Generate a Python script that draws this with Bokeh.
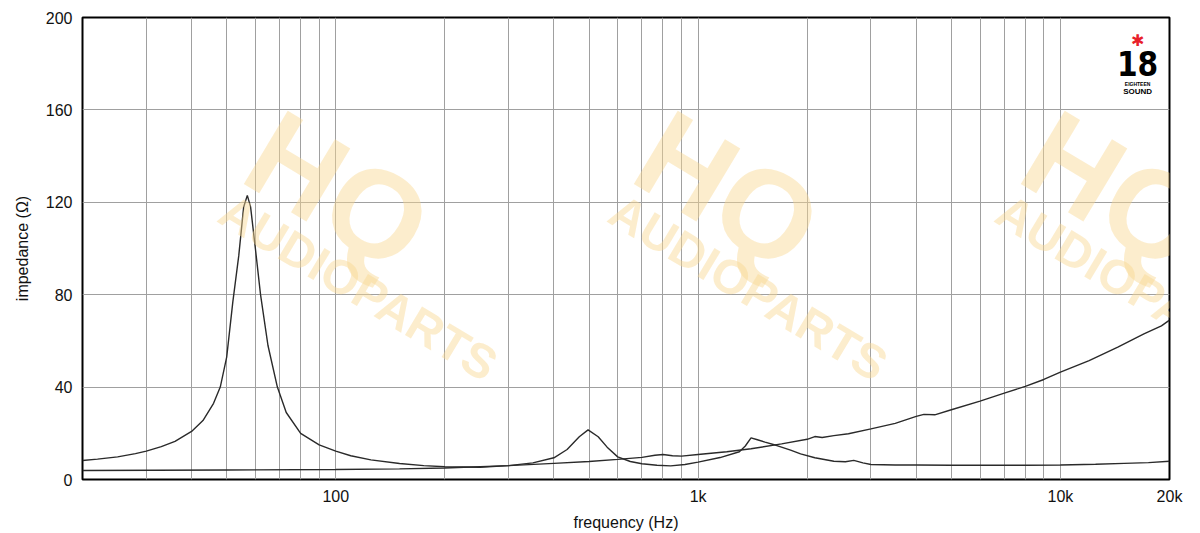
from bokeh.plotting import figure
from bokeh.models import Range1d, FixedTicker, Label
from bokeh.embed import file_html
from bokeh.resources import INLINE
import math

# ---- data ----
freq_a = [20, 22, 25, 28, 30, 33, 36, 40, 43, 46, 48, 50, 52, 54, 55.7, 57, 58.2, 60, 62, 65,
          69, 73, 80, 90, 100, 110, 125, 150, 175, 200, 250, 300, 350, 400, 435, 470, 497, 530,
          561, 600, 650, 700, 770, 840, 920, 1000, 1150, 1300, 1350, 1400, 1450, 1530, 1650,
          1800, 1918, 2100, 2370, 2550, 2690, 2850, 3000, 3500, 4000, 5000, 6000, 8000, 10000,
          12500, 15000, 17500, 20000]
imp_a = [8.2, 8.8, 9.8, 11.2, 12.3, 14.2, 16.5, 20.8, 25.5, 33, 40, 53, 77, 97, 118, 123, 118,
         100, 80, 58, 40, 29, 20, 15, 12.3, 10.3, 8.5, 6.9, 6.0, 5.5, 5.3, 6.0, 7.2, 9.4, 13,
         18.5, 21.5, 18.5, 14, 9.8, 7.8, 6.8, 6.2, 5.9, 6.5, 7.5, 9.5, 12, 14.5, 18, 17.3, 16.2,
         14.7, 12.7, 11.1, 9.4, 7.9, 7.7, 8.3, 7.2, 6.5, 6.3, 6.3, 6.2, 6.2, 6.2, 6.3, 6.6, 7.0,
         7.3, 7.9]

freq_b = [20, 50, 100, 150, 200, 300, 400, 500, 600, 700, 760, 800, 850, 900, 1000, 1200, 1400,
          1700, 2000, 2100, 2200, 2370, 2600, 3000, 3500, 4000, 4200, 4500, 5000, 6000, 7000,
          8000, 9000, 10000, 12000, 14400, 17000, 19000, 20000]
imp_b = [3.9, 4.1, 4.3, 4.6, 5.0, 6.0, 7.0, 7.8, 8.7, 9.6, 10.5, 10.8, 10.3, 10.1, 10.8, 12.0,
         13.3, 15.4, 17.4, 18.6, 18.2, 19.0, 19.8, 21.9, 24.3, 27.3, 28.2, 28.0, 30.2, 33.9,
         37.4, 40.3, 43.3, 46.5, 51.5, 57.3, 63.0, 66.5, 69.0]

x_major = [100, 1000, 10000, 20000]
x_labels = ["100", "1k", "10k", "20k"]
x_minor = [30, 40, 50, 60, 70, 80, 90, 200, 300, 400, 500, 600, 700, 800, 900,
           2000, 3000, 4000, 5000, 6000, 7000, 8000, 9000]
y_ticks = [0, 40, 80, 120, 160, 200]

FONT = "Liberation Sans"
GRID = "#a0a0a0"
CURVE = "#2a2a2a"

p = figure(width=1200, height=533, x_axis_type="log",
           x_range=Range1d(20, 20000), y_range=Range1d(0, 200),
           output_backend="svg", toolbar_location=None,
           min_border_left=82, min_border_right=31, min_border_top=17, min_border_bottom=54)
p.background_fill_color = "white"
p.border_fill_color = "white"
p.outline_line_color = "black"
p.outline_line_width = 2
p.outline_line_alpha = 1

# watermark (faint)
WM = "#f9d890"
wm_angle = -math.radians(31)
for fx in [101.8, 1214, 14200]:
    p.add_layout(Label(x=fx, y=125, text="HQ", text_font=FONT, text_font_style="bold",
                       text_font_size="124px", text_color=WM, text_alpha=0.45,
                       text_align="center", text_baseline="middle", angle=wm_angle))
for fx in [115.6, 1378, 16100]:
    p.add_layout(Label(x=fx, y=83, text="AUDIOPARTS", text_font=FONT, text_font_style="bold",
                       text_font_size="48px", text_color=WM, text_alpha=0.45,
                       text_align="center", text_baseline="middle", angle=wm_angle))

# axes
p.xaxis.ticker = FixedTicker(ticks=x_major, minor_ticks=x_minor)
p.xaxis.major_label_overrides = {t: l for t, l in zip(x_major, x_labels)}
p.yaxis.ticker = FixedTicker(ticks=y_ticks)
for ax in (p.xaxis, p.yaxis):
    ax.axis_line_color = None
    ax.major_tick_line_color = None
    ax.minor_tick_line_color = None
    ax.major_tick_out = 0
    ax.minor_tick_out = 0
    ax.major_tick_in = 0
    ax.minor_tick_in = 0
    ax.major_label_text_font = FONT
    ax.major_label_text_font_size = "16px"
    ax.major_label_text_color = "#111111"
    ax.axis_label_text_font = FONT
    ax.axis_label_text_font_size = "16px"
    ax.axis_label_text_font_style = "normal"
    ax.axis_label_text_color = "#111111"
p.xaxis.axis_label = "frequency (Hz)"
p.yaxis.axis_label = "impedance (Ω)"
p.xaxis.major_label_standoff = 8
p.xaxis.axis_label_standoff = 6
p.yaxis.major_label_standoff = 10
p.yaxis.axis_label_standoff = 12

p.xgrid.grid_line_color = GRID
p.xgrid.grid_line_width = 1
p.xgrid.minor_grid_line_color = GRID
p.xgrid.minor_grid_line_width = 1
p.ygrid.grid_line_color = GRID
p.ygrid.grid_line_width = 1

# curves
p.line(freq_a, imp_a, line_color=CURVE, line_width=1.4)
p.line(freq_b, imp_b, line_color=CURVE, line_width=1.4)

# 18 Sound logo
LOGO_X = 16330
p.add_layout(Label(x=LOGO_X, y=190, text="✱", text_font="DejaVu Sans", text_font_size="16px",
                   text_color="#e8202a", text_align="center", text_baseline="middle"))
p.add_layout(Label(x=LOGO_X, y=180.3, text="18",
                   text_font="DejaVu Sans Condensed, Liberation Sans Narrow, Liberation Sans",
                   text_font_style="bold", text_font_size="33px", text_color="black",
                   text_align="center", text_baseline="middle"))
p.add_layout(Label(x=LOGO_X, y=171.4, text="EIGHTEEN", text_font=FONT, text_font_style="bold",
                   text_font_size="5px", text_color="black",
                   text_align="center", text_baseline="middle"))
p.add_layout(Label(x=LOGO_X, y=167.9, text="SOUND", text_font=FONT, text_font_style="bold",
                   text_font_size="8px", text_color="black",
                   text_align="center", text_baseline="middle"))

open("out.html", "w").write(file_html(p, INLINE))
